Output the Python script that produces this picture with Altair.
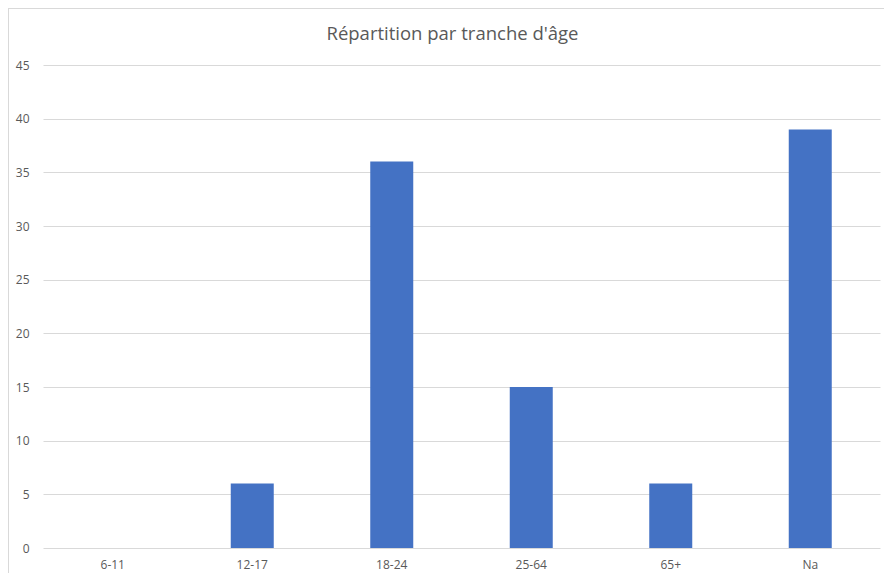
import altair as alt
import pandas as pd

categories = ["6-11", "12-17", "18-24", "25-64", "65+", "Na"]
values = [0, 6, 36, 15, 6, 39]
y_ticks = [0, 5, 10, 15, 20, 25, 30, 35, 40, 45]

df = pd.DataFrame({"Tranche": categories, "Nombre": values})

FONT = "Open Sans"
TXT = "#595959"
GRID = "#d9d9d9"

bars = alt.Chart(df).mark_bar(size=43, color="#4472C4").encode(
    x=alt.X("Tranche:N", sort=categories,
            scale=alt.Scale(paddingInner=0, paddingOuter=0),
            axis=alt.Axis(title=None, labelAngle=0, ticks=False, domain=False,
                          labelPadding=11, labelFont=FONT, labelFontSize=12,
                          labelColor=TXT)),
    y=alt.Y("Nombre:Q", scale=alt.Scale(domain=[0, 45], nice=False),
            axis=alt.Axis(title=None, values=y_ticks, ticks=False, domain=False,
                          grid=True, gridColor=GRID, gridWidth=1,
                          labelPadding=14, labelFont=FONT, labelFontSize=12,
                          labelColor=TXT)),
)

frame_top = alt.Chart(df).mark_rule(color=GRID, strokeWidth=1).encode(
    x=alt.value(-35), x2=alt.value(845), y=alt.value(-56.5)
)
frame_left = alt.Chart(df).mark_rule(color=GRID, strokeWidth=1).encode(
    x=alt.value(-34.5), y=alt.value(-57), y2=alt.value(510)
)

chart = alt.layer(bars, frame_top, frame_left).properties(
    width=837,
    height=483,
    autosize=alt.AutoSizeParams(type="none"),
    padding={"left": 35, "top": 57, "right": 4, "bottom": 25},
    title=alt.TitleParams("Répartition par tranche d'âge", font=FONT,
                          fontSize=18.5, fontWeight="normal", color=TXT,
                          anchor="middle", offset=24, dx=-9, dy=60),
).configure_view(stroke=None)

chart.save("out.html", embed_options={"renderer": "svg", "actions": False})
